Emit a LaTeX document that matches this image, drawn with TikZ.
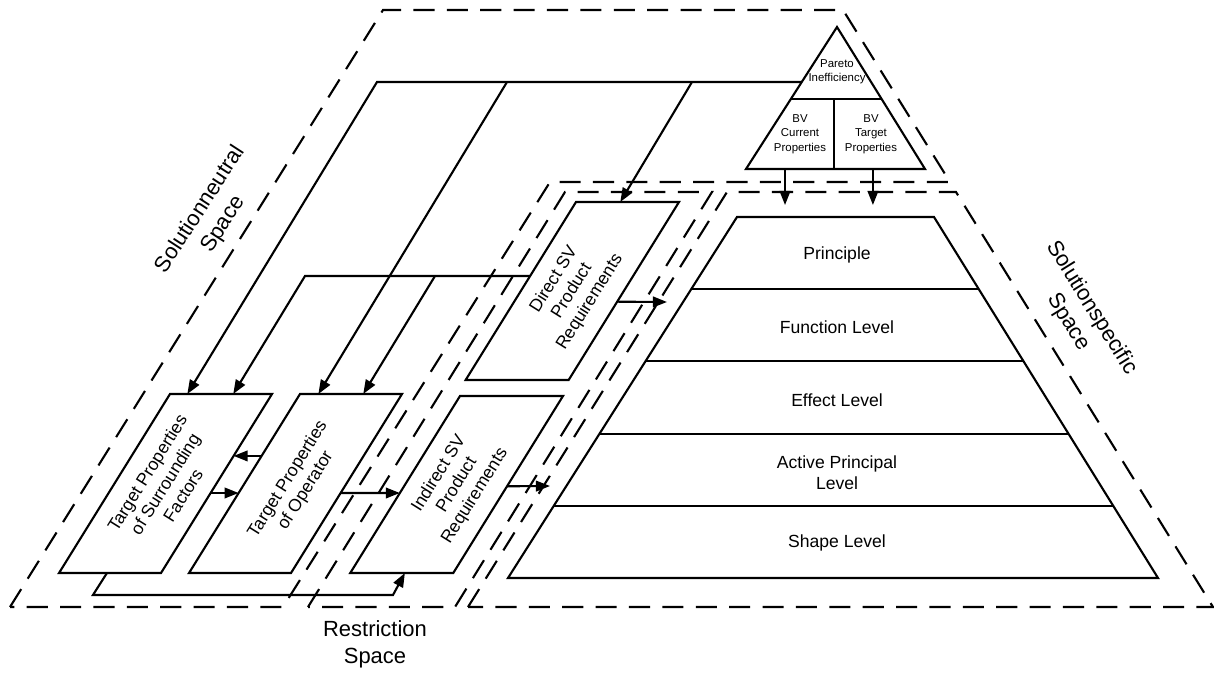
\documentclass[tikz,border=0pt]{standalone}
\usepackage{fontspec}
\setmainfont{Liberation Sans}
\usetikzlibrary{arrows.meta,calc}

\begin{document}
\begin{tikzpicture}[x=0.02cm, y=-0.02cm, line width=1.2pt,
    >={Triangle[length=8pt,width=6pt]},
    space/.style={dash pattern=on 12pt off 7pt},
    boxtext/.style={rotate=58, align=center, font=\fontsize{10}{12}\selectfont},
    lvltext/.style={align=center, font=\fontsize{10}{12}\selectfont},
    smalltext/.style={align=center, font=\fontsize{6.5}{8.2}\selectfont},
    spacetext/.style={align=center, font=\fontsize{12.5}{15.5}\selectfont}]
  \useasboundingbox (0,0) rectangle (1214,673);

  % spaces
  \draw [space] (10,607) -- (383,10) -- (843,10) -- (950,182) -- (550,182) -- (283,607) -- cycle;
  \draw [space] (308,607) -- (565,192) -- (712,192) -- (455,607) -- cycle;
  \draw [space] (468,607) -- (727,192) -- (956,192) -- (1213,607) -- cycle;

  \node [spacetext, rotate=57] (neutral) at (212,217) {Solutionneutral\\Space};
  \node [spacetext, rotate=-58] (specific) at (1080,315) {Solutionspecific\\Space};
  \node [spacetext] (restr) at (375,644) {Restriction\\Space};

  % pareto triangle
  \coordinate (tri-a) at (837,27);
  \coordinate (tri-l) at (746,169);
  \coordinate (tri-r) at (925,169);
  \draw (tri-a) -- (tri-r) -- (tri-l) -- cycle;
  \draw (790,99) -- (882,99);
  \draw (834,99) -- (834,169);
  \node [smalltext] (pareto) at (837,72) {Pareto\\Inefficiency};
  \node [smalltext] (curr) at (800,134) {BV\\Current\\Properties};
  \node [smalltext] (targ) at (871,134) {BV\\Target\\Properties};

  % levels
  \draw (737,217) -- (934,217) -- (1158,578) -- (508,578) -- cycle;
  \foreach \y in {289, 361, 434, 506} {
    \pgfmathsetmacro\xl{737 - 0.6343*(\y-217)};
    \pgfmathsetmacro\xr{934 + 0.6205*(\y-217)};
    \draw (\xl,\y) -- (\xr,\y);
  }
  \node [lvltext] (prin) at (837,255) {Principle};
  \node [lvltext] (func) at (837,327) {Function Level};
  \node [lvltext] (eff) at (837,400) {Effect Level};
  \node [lvltext] (act) at (837,473) {Active Principal\\Level};
  \node [lvltext] (shape) at (837,543) {Shape Level};

  % requirement boxes
  \foreach \n/\x/\t/\b/\w in {sur/170/394/573/102, opr/300/394/573/102,
                             ind/460/396/573/103, dir/576/202/380/103} {
    \pgfmathsetmacro\xb{\x - 0.62*(\b-\t)};
    \coordinate (\n-tl) at (\x,\t);
    \coordinate (\n-tr) at (\x+\w,\t);
    \coordinate (\n-br) at (\xb+\w,\b);
    \coordinate (\n-bl) at (\xb,\b);
    \draw (\n-tl) -- (\n-tr) -- (\n-br) -- (\n-bl) -- cycle;
  }
  \node [boxtext] (surtext) at (165,484) {Target Properties\\of Surrounding\\Factors};
  \node [boxtext] (oprtext) at (297,485) {Target Properties\\of Operator};
  \node [boxtext] (indtext) at (457,485) {Indirect SV\\Product\\Requirements};
  \node [boxtext] (dirtext) at (572,291) {Direct SV\\Product\\Requirements};

  % connections
  \coordinate (pin) at ($(tri-l)!0.613!(tri-a)$);
  \coordinate (din) at ($(dir-bl)!0.584!(dir-tl)$);
  \coordinate (ssin) at (550,486);
  \coordinate (dsin) at (667,302);

  \draw [->] (pin) -- (377,82) -- ($(sur-tl)!0.17!(sur-tr)$);
  \draw [->] (507,82) -- ($(opr-tl)!0.18!(opr-tr)$);
  \draw [->] (692,82) -- ($(dir-tl)!0.43!(dir-tr)$);
  \draw [->] (din) -- (305,276) -- ($(sur-tl)!0.62!(sur-tr)$);
  \draw [->] (435,276) -- ($(opr-tl)!0.62!(opr-tr)$);

  \draw [->] ($(opr-bl)!0.654!(opr-tl)$) -- ($(sur-br)!0.654!(sur-tr)$);
  \draw [->] ($(sur-br)!0.447!(sur-tr)$) -- ($(opr-bl)!0.447!(opr-tl)$);
  \draw [->] ($(opr-br)!0.447!(opr-tr)$) -- ($(ind-bl)!0.452!(ind-tl)$);
  \draw [->] ($(ind-br)!0.49!(ind-tr)$) -- (ssin);
  \draw [->] ($(dir-br)!0.44!(dir-tr)$) -- (dsin);

  \draw [->] ($(tri-l)!0.218!(tri-r)$) -- ++(0,36);
  \draw [->] ($(tri-l)!0.709!(tri-r)$) -- ++(0,36);

  \draw [->] ($(sur-bl)!0.47!(sur-br)$) -- ++(-14,22) -- (393,595) -- ($(ind-bl)!0.53!(ind-br)$);
\end{tikzpicture}
\end{document}
